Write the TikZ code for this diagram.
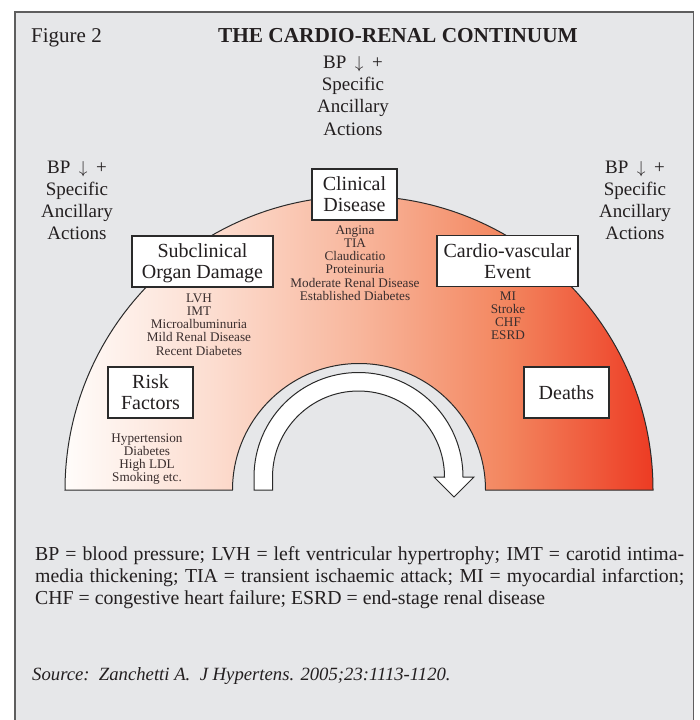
\documentclass[tikz,border=0pt]{standalone}
\usepackage{fontspec}
\setmainfont{Liberation Serif}
\definecolor{bggray}{HTML}{E6E7E9}
\definecolor{framegray}{HTML}{5E5E5E}
\definecolor{textdark}{HTML}{231F20}
\definecolor{listcol}{HTML}{3A2E2E}
\definecolor{boxline}{HTML}{2A2A2A}
\definecolor{sA}{HTML}{FFFCFA}
\definecolor{sB}{HTML}{FCDDD0}
\definecolor{sC}{HTML}{F8B69C}
\definecolor{sD}{HTML}{F3865F}
\definecolor{sE}{HTML}{ED3B23}
\pgfdeclarehorizontalshading{crshade}{100bp}{color(0bp)=(sA); color(25bp)=(sA); color(37.5bp)=(sB); color(50bp)=(sC); color(62.5bp)=(sD); color(75bp)=(sE); color(100bp)=(sE)}
\newcommand\cstack[1]{\begin{tabular}[t]{@{}c@{}}#1\end{tabular}}
\newcommand\twoline[1]{\raisebox{0pt}[13.5pt][21pt]{\cstack{#1}}}
\newcommand\bpline{BP\hspace{0.45em}$\downarrow$\hspace{0.45em}+}
\tikzset{
  frame/.style={draw=framegray, line width=1.6pt, fill=bggray},
  cbox/.style={draw=boxline, fill=white, line width=1.1pt, inner sep=0pt, minimum height=51pt, font=\fontsize{20}{21}\selectfont, text=textdark},
  smallbox/.style={cbox, minimum width=85pt},
  widebox/.style={cbox, minimum width=141pt},
  listtext/.style={anchor=base, inner sep=0pt, font=\fontsize{13.2}{13.3}\selectfont, text=listcol},
  bptext/.style={anchor=base, inner sep=0pt, font=\fontsize{19}{22.2}\selectfont, text=textdark},
  legendtext/.style={anchor=base west, inner sep=0pt, font=\fontsize{19.8}{22}\selectfont, text=textdark},
  ring/.style={draw=boxline, line width=1pt, shading=crshade},
  turnarrow/.style={draw=boxline, line width=1pt, fill=white, line join=miter}
}
\begin{document}
\begin{tikzpicture}[x=1pt,y=-1pt]
\useasboundingbox (0,0) rectangle (699,720);
\clip (0,0) rectangle (699,720);
\draw[frame] (15,12) rectangle (693.5,740);

% titles
\node[anchor=base west, inner sep=0pt, font=\fontsize{21}{24}\selectfont, text=textdark] (fig) at (31,42) {Figure 2};
\node[anchor=base, inner sep=0pt, font=\fontsize{21.3}{24}\selectfont\bfseries, text=textdark] (title) at (398,42) {THE CARDIO-RENAL CONTINUUM};

% BP groups
\node[bptext] (bptop) at (353,68.5) {\cstack{\bpline\\Specific\\Ancillary\\Actions}};
\node[bptext] (bpleft) at (77,173) {\cstack{\bpline\\Specific\\Ancillary\\Actions}};
\node[bptext] (bpright) at (635,173) {\cstack{\bpline\\Specific\\Ancillary\\Actions}};

% half annulus
\shadedraw[ring] (65,490) arc[start angle=180, end angle=360, radius=294]
  -- (485.5,490) arc[start angle=360, end angle=180, radius=126.5] -- cycle;

% curved arrow
\draw[turnarrow] (254,490) -- (254,477) arc[start angle=180, end angle=360, radius=104.5]
  -- (474,477) -- (454,497) -- (434,477) -- (444.5,477)
  arc[start angle=360, end angle=180, radius=86] -- (272.5,490) -- cycle;

% boxes
\node[smallbox] (clin) at (354.5,194.5) {\twoline{Clinical\\Disease}};
\node[widebox] (subc) at (202.5,261.5) {\twoline{Subclinical\\Organ Damage}};
\node[widebox] (cve) at (507.5,261) {\twoline{Cardio-vascular\\Event}};
\node[smallbox] (risk) at (150.5,392.5) {\twoline{Risk\\Factors}};
\node[smallbox] (death) at (566.5,392.5) {\raisebox{0pt}[13.5pt][0pt]{Deaths}};

% lists
\node[listtext] (clinlist) at (355,234) {\cstack{Angina\\TIA\\Claudicatio\\Proteinuria\\Moderate Renal Disease\\Established Diabetes}};
\node[listtext] (subclist) at (199,302) {\cstack{LVH\\IMT\\Microalbuminuria\\Mild Renal Disease\\Recent Diabetes}};
\node[listtext] (cvelist) at (508,300) {\cstack{MI\\Stroke\\CHF\\ESRD}};
\node[listtext] (risklist) at (147,442) {\cstack{Hypertension\\Diabetes\\High LDL\\Smoking etc.}};

% legend
\node[legendtext] (leg1) at (35,560) {\makebox[649pt][s]{BP = blood pressure; LVH = left ventricular hypertrophy; IMT = carotid intima-}};
\node[legendtext] (leg2) at (35,582) {\makebox[649pt][s]{media thickening; TIA = transient ischaemic attack; MI = myocardial infarction;}};
\node[legendtext] (leg3) at (35,604) {CHF = congestive heart failure; ESRD = end-stage renal disease};
\node[anchor=base west, inner sep=0pt, font=\fontsize{18.7}{22}\selectfont\itshape, text=textdark] (src) at (32,680) {Source:\ \ Zanchetti A.\ \ J Hypertens. 2005;23:1113-1120.};
\end{tikzpicture}
\end{document}
